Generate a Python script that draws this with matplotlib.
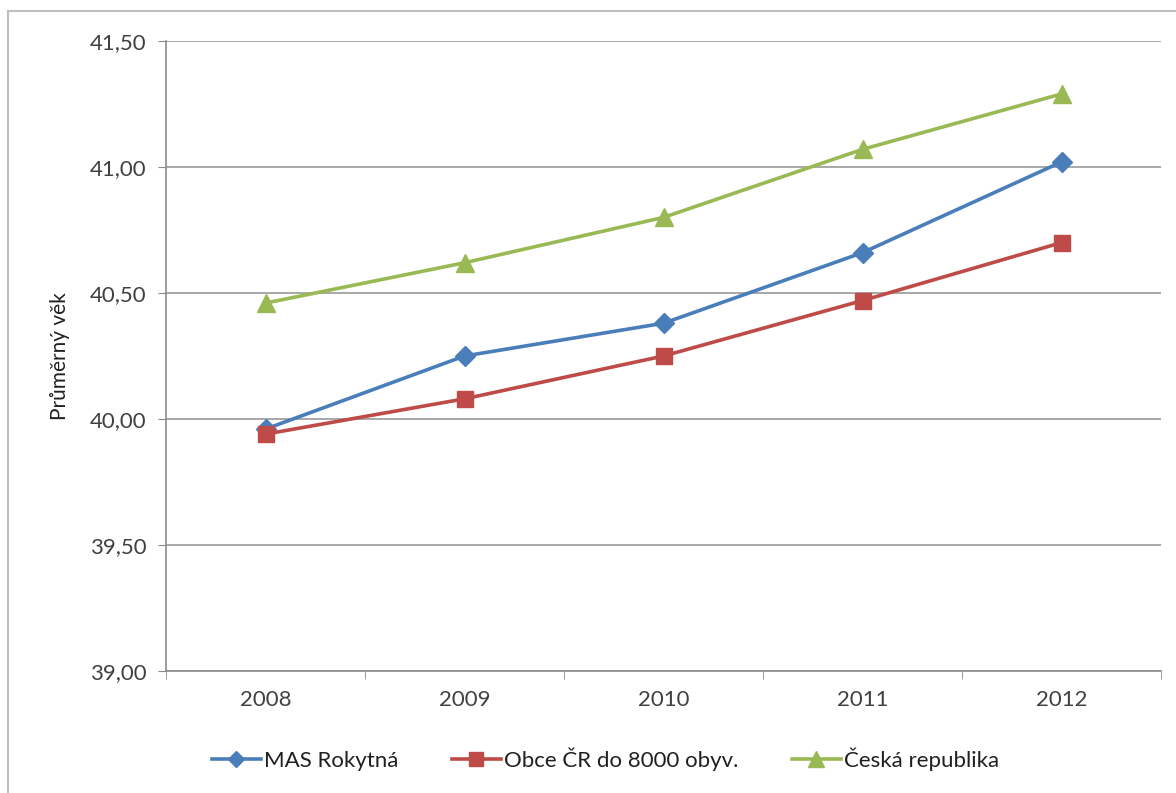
import matplotlib.pyplot as plt
from matplotlib.patches import Rectangle
from matplotlib.ticker import FuncFormatter, MultipleLocator

# data
roky = ["2008", "2009", "2010", "2011", "2012"]
mas_rokytna = [39.96, 40.25, 40.38, 40.66, 41.02]
obce_cr = [39.94, 40.08, 40.25, 40.47, 40.70]
ceska_republika = [40.46, 40.62, 40.80, 41.07, 41.29]

plt.rcParams['font.family'] = ['Lato', 'DejaVu Sans']

fig = plt.figure(figsize=(11.76, 7.93), dpi=100)
ax = fig.add_axes([166 / 1176, 1 - 671 / 793, (1161 - 166) / 1176, (671 - 41) / 793])

# ramecek grafu
fig.patches.append(Rectangle((8 / 1176, -0.01), 1.2, 1 - 11 / 793 + 0.01,
                             transform=fig.transFigure, fill=False,
                             edgecolor='#bfbfbf', linewidth=1.5))

x = list(range(len(roky)))
ax.plot(x, mas_rokytna, color='#4a7ebb', lw=2.6, marker='D', ms=10,
        label='MAS Rokytná')
ax.plot(x, obce_cr, color='#be4b48', lw=2.6, marker='s', ms=12,
        label='Obce ČR do 8000 obyv.')
ax.plot(x, ceska_republika, color='#98b954', lw=2.6, marker='^', ms=13,
        label='Česká republika')

ax.set_xlim(-0.5, len(roky) - 0.5)
ax.set_ylim(39.0, 41.5)
ax.yaxis.set_major_locator(MultipleLocator(0.5))
ax.yaxis.set_major_formatter(FuncFormatter(lambda v, p: f"{v:.2f}".replace('.', ',')))
ax.set_xticks(x)
ax.set_xticklabels(roky)
ax.set_xticks([i - 0.5 for i in range(len(roky) + 1)], minor=True)

ax.grid(axis='y', color='#9a9a9a', lw=1.2)
ax.set_axisbelow(True)
for s in ['top', 'right']:
    ax.spines[s].set_visible(False)
for s in ['left', 'bottom']:
    ax.spines[s].set_color('#8c8c8c')
    ax.spines[s].set_linewidth(1.2)

ax.tick_params(axis='y', which='major', length=6, color='#8c8c8c',
               labelsize=16, labelcolor='#404040', pad=8)
ax.tick_params(axis='x', which='major', length=0, labelsize=16,
               labelcolor='#404040', pad=14)
ax.tick_params(axis='x', which='minor', length=6, color='#8c8c8c')

ax.set_ylabel('Průměrný věk', fontsize=15, color='#202020', labelpad=14)

fig.legend(loc='center', bbox_to_anchor=(0.515, 1 - 759 / 793), ncol=3,
           frameon=False, fontsize=16, handlelength=2.2, columnspacing=2.4,
           handletextpad=0.15, labelcolor='#202020', markerscale=0.85)

fig.savefig('out.png', dpi=100)
